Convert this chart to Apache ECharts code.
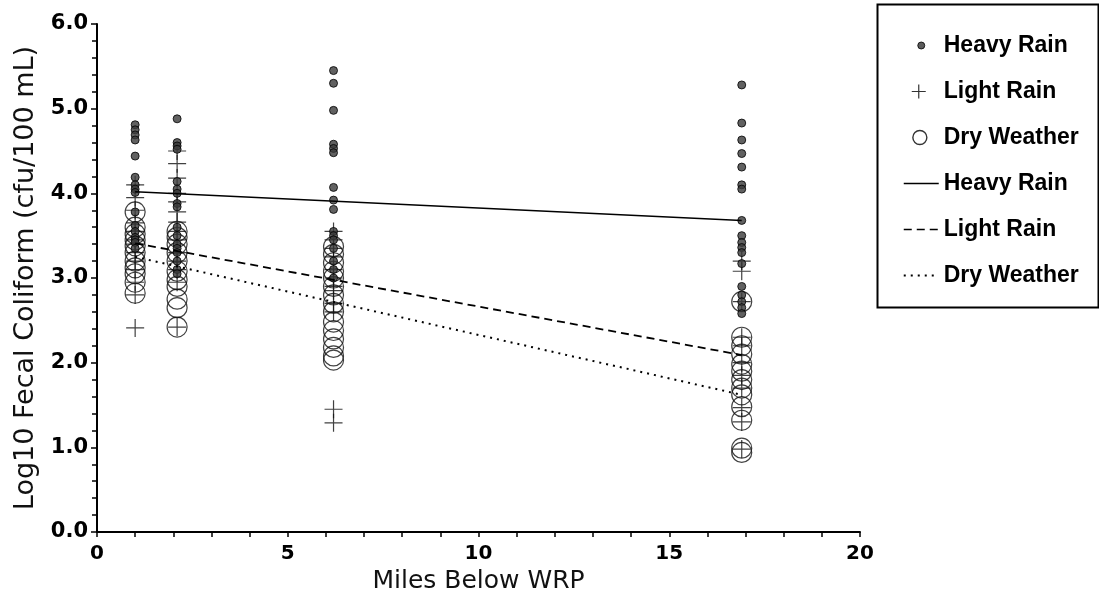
<!DOCTYPE html>
<html><head><meta charset="utf-8">
<script src="https://cdn.jsdelivr.net/npm/echarts@6/dist/echarts.min.js"></script>
<style>html,body{margin:0;padding:0;background:#fff}#c{width:1099px;height:605px}</style>
</head><body><div id="c"></div>
<script>
// Sampling sites (miles below WRP)
const sites = [1.0, 2.1, 6.2, 16.9];
// Log10 fecal coliform values per site
const heavyRain = [
  [4.81, 4.75, 4.69, 4.63, 4.44, 4.19, 4.10, 4.05, 4.01, 3.78, 3.62, 3.55, 3.48, 3.45, 3.42, 3.35],
  [4.88, 4.60, 4.56, 4.52, 4.14, 4.05, 4.00, 3.88, 3.84, 3.60, 3.50, 3.40, 3.35, 3.30, 3.20, 3.10, 3.05],
  [5.45, 5.30, 4.98, 4.58, 4.53, 4.48, 4.07, 3.92, 3.81, 3.55, 3.50, 3.45, 3.35, 3.20, 3.10, 3.00],
  [5.28, 4.83, 4.63, 4.47, 4.31, 4.10, 4.05, 3.68, 3.50, 3.42, 3.36, 3.30, 3.17, 2.90, 2.80, 2.72, 2.65, 2.58]
];
const lightRain = [
  [4.10, 3.95, 3.80, 3.65, 3.55, 3.45, 3.40, 3.30, 3.20, 3.10, 2.95, 2.80, 2.41],
  [4.50, 4.35, 4.18, 4.00, 3.90, 3.78, 3.66, 3.55, 3.45, 3.30, 3.20, 3.10, 2.95, 2.42],
  [3.55, 3.45, 3.35, 3.25, 3.10, 3.00, 2.90, 2.85, 2.70, 2.60, 1.45, 1.29],
  [3.20, 3.08, 2.72, 2.30, 2.20, 2.00, 1.85, 1.70, 1.47, 1.30, 0.98]
];
const dryWeather = [
  [3.78, 3.60, 3.52, 3.45, 3.38, 3.30, 3.20, 3.12, 3.05, 2.95, 2.82],
  [3.55, 3.48, 3.40, 3.30, 3.20, 3.08, 2.98, 2.90, 2.75, 2.65, 2.42],
  [3.37, 3.28, 3.18, 3.08, 3.00, 2.90, 2.80, 2.70, 2.60, 2.48, 2.38, 2.28, 2.18, 2.08, 2.03],
  [2.72, 2.30, 2.20, 2.10, 1.98, 1.90, 1.80, 1.70, 1.62, 1.48, 1.32, 0.99, 0.94]
];
// Regression line end points
const fitX = [1.0, 16.9];
const heavyFit = [4.02, 3.68];
const lightFit = [3.41, 2.09];
const dryFit = [3.25, 1.62];
const xTicks = [0, 5, 10, 15, 20];
const yTicks = [0, 1, 2, 3, 4, 5, 6];

function pts(groups) {
  const out = [];
  groups.forEach((g, i) => g.forEach(v => out.push([sites[i], v])));
  return out;
}
function line(ys) { return fitX.map((x, i) => [x, ys[i]]); }

const FONT = '"Liberation Sans", Arial, sans-serif';
const WIDE = '"DejaVu Sans", sans-serif';
const chart = echarts.init(document.getElementById('c'), null, {renderer: 'canvas'});
const frame = 'M0 0M35 14';
const strokeIcon = {color: 'rgba(0,0,0,0)', borderColor: '#000', borderWidth: 1.5};
chart.setOption({
  animation: false,
  backgroundColor: '#fff',
  grid: {left: 97, right: 239, top: 24, bottom: 73},
  xAxis: {
    type: 'value', min: xTicks[0], max: xTicks[xTicks.length - 1], interval: 5,
    name: 'Miles Below WRP', nameLocation: 'middle', nameGap: 37,
    nameTextStyle: {fontFamily: WIDE, fontSize: 25, color: '#111'},
    axisLine: {lineStyle: {color: '#000', width: 2}},
    axisTick: {show: true, length: 5, lineStyle: {color: '#000', width: 1.5}},
    minorTick: {show: true, splitNumber: 5, length: 5, lineStyle: {color: '#000', width: 1.5}},
    splitLine: {show: false},
    axisLabel: {fontFamily: WIDE, fontSize: 20, fontWeight: 'bold', color: '#000', margin: 12}
  },
  yAxis: {
    type: 'value', min: yTicks[0], max: yTicks[yTicks.length - 1], interval: 1,
    name: 'Log10 Fecal Coliform (cfu/100 mL)', nameLocation: 'middle', nameGap: 55,
    nameTextStyle: {fontFamily: WIDE, fontSize: 27, color: '#111'},
    axisLine: {show: true, lineStyle: {color: '#000', width: 2}},
    axisTick: {show: true, length: 6, lineStyle: {color: '#000', width: 1.5}},
    minorTick: {show: true, splitNumber: 5, length: 5, lineStyle: {color: '#000', width: 1.5}},
    splitLine: {show: false},
    axisLabel: {fontFamily: WIDE, fontSize: 21, fontWeight: 'bold', color: '#000', margin: 9,
      formatter: v => v.toFixed(1)}
  },
  legend: {
    orient: 'vertical', left: 898, top: 29, itemWidth: 35, itemHeight: 14, itemGap: 23,
    selectedMode: false,
    textStyle: {fontFamily: FONT, fontSize: 23, fontWeight: 'bold', color: '#000', lineHeight: 23},
    formatter: n => n.replace(' fit', ''),
    data: [
      {name: 'Heavy Rain', icon: 'path://' + frame + 'M14 7a3.5 3.5 0 1 0 7 0a3.5 3.5 0 1 0 -7 0z',
        itemStyle: {color: '#333', borderColor: '#000', borderWidth: 1}},
      {name: 'Light Rain', icon: 'path://' + frame + 'M8 7H22M15 0V14',
        itemStyle: {color: 'rgba(0,0,0,0)', borderColor: '#000', borderWidth: 1.2}},
      {name: 'Dry Weather', icon: 'path://' + frame + 'M8.5 7a7.5 7.5 0 1 0 15 0a7.5 7.5 0 1 0 -15 0z',
        itemStyle: {color: 'rgba(0,0,0,0)', borderColor: '#000', borderWidth: 1.4}},
      {name: 'Heavy Rain fit', icon: 'path://' + frame + 'M0 7H35', itemStyle: strokeIcon},
      {name: 'Light Rain fit', icon: 'path://' + frame + 'M0 7H8M13 7H21M26 7H34', itemStyle: strokeIcon},
      {name: 'Dry Weather fit', icon: 'path://' + frame + 'M0 6h2v2h-2zM7 6h2v2h-2zM14 6h2v2h-2zM21 6h2v2h-2zM28 6h2v2h-2z',
        itemStyle: {color: '#000', borderColor: '#000', borderWidth: 0}}
    ]
  },
  graphic: [{
    type: 'rect', left: 875, top: 2, shape: {width: 221, height: 303},
    style: {fill: 'none', stroke: '#000', lineWidth: 2}, z: 10
  }],
  series: [
    {name: 'Dry Weather', type: 'scatter', data: pts(dryWeather), symbol: 'circle', symbolSize: 20,
      itemStyle: {color: 'rgba(0,0,0,0)', borderColor: '#111', borderWidth: 1.2}, z: 2},
    {name: 'Light Rain', type: 'scatter', data: pts(lightRain), symbol: 'path://M0 9H18M9 0V18', symbolSize: [18, 18],
      itemStyle: {color: 'rgba(0,0,0,0)', borderColor: '#111', borderWidth: 1.2}, z: 3},
    {name: 'Heavy Rain', type: 'scatter', data: pts(heavyRain), symbol: 'circle', symbolSize: 8,
      itemStyle: {color: '#3a3a3a', borderColor: '#000', borderWidth: 1}, z: 4},
    {name: 'Heavy Rain fit', type: 'line', data: line(heavyFit), symbol: 'none', showSymbol: false,
      lineStyle: {color: '#000', width: 1.5, type: 'solid'}, itemStyle: {color: '#000'}, z: 5},
    {name: 'Light Rain fit', type: 'line', data: line(lightFit), symbol: 'none', showSymbol: false,
      lineStyle: {color: '#000', width: 1.8, type: [8, 5]}, itemStyle: {color: '#000'}, z: 5},
    {name: 'Dry Weather fit', type: 'line', data: line(dryFit), symbol: 'none', showSymbol: false,
      lineStyle: {color: '#000', width: 2, type: [2, 5]}, itemStyle: {color: '#000'}, z: 5}
  ]
});
</script></body></html>
